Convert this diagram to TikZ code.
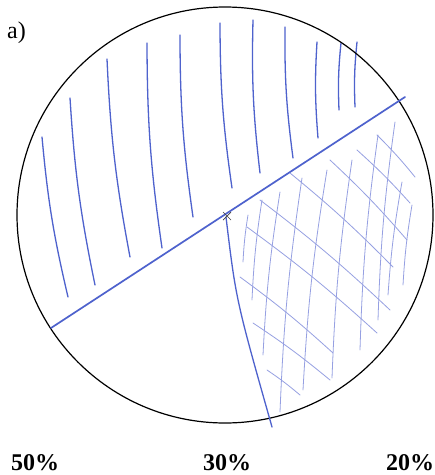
\documentclass[tikz,border=0pt]{standalone}
\usepackage{fontspec}
\setmainfont{Liberation Serif}
\usetikzlibrary{calc}
\definecolor{ink}{RGB}{78,98,205}
\definecolor{lightink}{RGB}{150,160,226}
\tikzset{
  rim/.style={draw=black,line width=1.2pt},
  mainline/.style={draw=ink,line width=1.7pt,line cap=round},
  darkstroke/.style={draw=ink,line width=1.3pt,line cap=round},
  lightstroke/.style={draw=lightink,line width=0.8pt,line cap=round},
  lbl/.style={font=\fontsize{24}{26}\selectfont\bfseries,anchor=base west,inner sep=0pt}
}
\begin{document}
\begin{tikzpicture}[x=1pt,y=-1pt]
\useasboundingbox (0,0) rectangle (435,475);
\fill[white] (0,0) rectangle (435,475);
\coordinate (O) at (225,215);
% upper-left dark hatching
\foreach \ax/\ay/\bx/\by in {42/137/68/297, 70/98/95/285, 107/59/130/257, 147/43/162/248,
  180/35/193/217, 220/23/232/188, 253/20/260/173, 285/27/293/158, 317/42/318/138,
  341/43/339/110, 357/42/355/107}
  \draw[darkstroke] (\ax,\ay) to[bend right=4] (\bx,\by);
% lower-right light cross hatching: near-vertical
\foreach \ax/\ay/\bx/\by in {248/215/243/262, 262/200/252/300, 280/192/263/355, 302/178/280/412,
  327/170/303/390, 352/160/332/378, 378/135/360/350, 395/122/378/320, 402/182/388/295, 412/205/403/285}
  \draw[lightstroke] (\ax,\ay) to[bend right=3] (\bx,\by);
% lower-right light cross hatching: diagonal
\foreach \ax/\ay/\bx/\by in {377/135/415/177, 357/150/410/203, 330/160/407/240, 290/173/393/267,
  260/200/390/310, 247/227/377/333, 240/277/333/353, 253/323/330/380, 267/370/300/395}
  \draw[lightstroke] (\ax,\ay) to[bend left=3] (\bx,\by);
% circle
\draw[rim] (O) circle[radius=208pt];
% main dividing line
\coordinate (L1) at (51,328);
\coordinate (L2) at (405,97);
\draw[mainline] (L1) -- (L2);
% descending line
\coordinate (D) at (272,427);
\coordinate (S) at (226,217);
\draw[mainline,line width=1.3pt] (S) .. controls (236,300) .. (D);
% centre mark
\coordinate (X) at (227,216);
\draw[black!75,line width=0.7pt] ($(X)+(-4,-4)$) -- ($(X)+(4,4)$) ($(X)+(-4,4)$) -- ($(X)+(4,-4)$);
% labels
\node[anchor=base west,inner sep=0pt,font=\fontsize{24}{26}\selectfont] (a) at (7,38) {a)};
\node[lbl] (p50) at (11,470) {50\%};
\node[lbl] (p30) at (203,470) {30\%};
\node[lbl] (p20) at (386,470) {20\%};
\end{tikzpicture}
\end{document}
